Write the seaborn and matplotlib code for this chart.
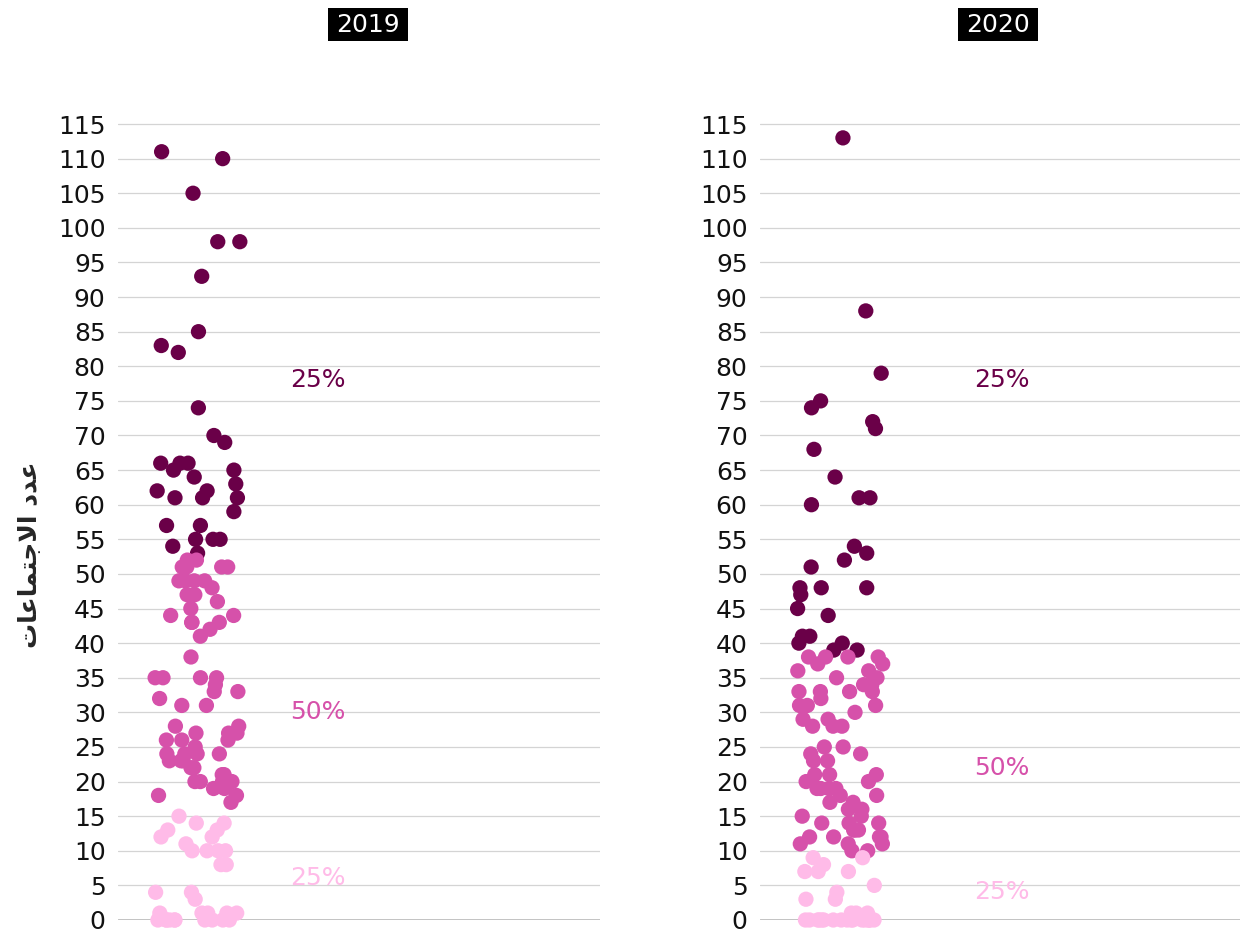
import numpy as np
import pandas as pd
import matplotlib
matplotlib.use("Agg")
import matplotlib.pyplot as plt
from matplotlib.patches import Rectangle
import seaborn as sns

# Meetings per member, split by quartile group
top_2019 = [111, 110, 105, 98, 98, 93, 85, 83, 82, 74, 70, 69, 66, 66, 66, 65, 65,
            64, 63, 62, 62, 61, 61, 61, 59, 57, 57, 55, 55, 55, 54, 53]
mid_2019 = [52, 52, 51, 51, 51, 51, 49, 49, 49, 49, 48, 47, 47, 46, 45, 44, 44,
            43, 43, 43, 42, 41, 38, 35, 35, 35, 35, 34, 33, 33, 32, 31, 31, 28, 28,
            27, 27, 27, 26, 26, 26, 25, 24, 24, 24, 24, 23, 23, 23, 22, 22, 21, 21,
            20, 20, 20, 20, 19, 19, 18, 18, 17]
low_2019 = [15, 14, 14, 13, 13, 12, 12, 11, 10, 10, 10, 10, 8, 8, 4, 4, 3,
            1, 1, 1, 1, 1, 0, 0, 0, 0, 0, 0, 0, 0, 0, 0]

top_2020 = [113, 88, 79, 75, 74, 72, 71, 68, 64, 61, 61, 60, 54, 53, 52, 51, 48,
            48, 48, 47, 45, 44, 41, 41, 40, 40, 39, 39]
mid_2020 = [38, 38, 38, 38, 37, 37, 36, 36, 35, 35, 34, 34, 33, 33, 33, 33, 32,
            31, 31, 31, 30, 29, 29, 28, 28, 28, 25, 25, 24, 24, 23, 23, 21, 21, 21,
            20, 20, 19, 19, 19, 19, 18, 18, 17, 17, 16, 16, 15, 15, 14, 14, 14, 13,
            13, 13, 12, 12, 12, 12, 11, 11, 11, 10, 10]
low_2020 = [9, 9, 8, 7, 7, 7, 5, 4, 3, 3, 1, 1, 1, 0, 0, 0, 0, 0, 0, 0, 0, 0,
            0, 0, 0, 0, 0, 0, 0, 0]

years = ["2019", "2020"]
groups = ["top", "mid", "low"]
group_labels = ["25%", "50%", "25%"]
label_pos = {"2019": [78, 30, 6], "2020": [78, 22, 4]}
label_x = {"2019": 0.57, "2020": 0.84}

colors = {"top": "#6a0048", "mid": "#d651aa", "low": "#ffbbe8"}

data = {
    "2019": {"top": top_2019, "mid": mid_2019, "low": low_2019},
    "2020": {"top": top_2020, "mid": mid_2020, "low": low_2020},
}

# "عدد الاجتماعات" in presentation forms, visual order (matplotlib has no shaping)
ylabel_forms = ["\uFECB", "\uFEAA", "\uFEA9", " ", "\uFE8D", "\uFEFB", "\uFE9F",
                "\uFE98", "\uFEE4", "\uFE8E", "\uFECB", "\uFE8E", "\uFE95"]
ylabel_text = "".join(reversed(ylabel_forms))

sns.set_theme(style="white")
plt.rcParams["font.family"] = ["DejaVu Sans"]

W, H = 1244, 936
fig = plt.figure(figsize=(W / 100, H / 100), dpi=100)
axes_pos = {"2019": [0.0949, 0.0171, 0.3874, 0.8526],
            "2020": [0.6110, 0.0171, 0.3860, 0.8526]}
title_cx = {"2019": 368, "2020": 998}

np.random.seed(7)
for year in years:
    ax = fig.add_axes(axes_pos[year])
    rows = []
    for g in groups:
        for v in data[year][g]:
            rows.append({"x": 0, "value": v, "group": g})
    df = pd.DataFrame(rows)
    sns.stripplot(data=df, x="x", y="value", hue="group", palette=colors,
                  hue_order=groups, jitter=0.27, size=11, linewidth=0,
                  legend=False, native_scale=True, ax=ax, clip_on=False, zorder=3)
    ax.set_xlim(-0.5, 2.5)
    ax.set_ylim(0, 115.3)
    ax.set_yticks(range(0, 116, 5))
    ax.set_yticklabels([str(t) for t in range(0, 116, 5)], fontsize=18)
    ax.tick_params(axis="y", length=0, pad=9, colors="#111111")
    ax.set_xticks([])
    ax.set_xlabel("")
    ax.set_ylabel("")
    for t in range(5, 116, 5):
        ax.axhline(t, color="#d4d4d4", lw=0.9, zorder=0)
    ax.axhline(0, color="#bdbdbd", lw=2, zorder=1)
    for s in ax.spines.values():
        s.set_visible(False)
    for g, lab, yv in zip(groups, group_labels, label_pos[year]):
        ax.text(label_x[year], yv, lab, color=colors[g], fontsize=18,
                ha="left", va="center")

    # year heading: white text on a black box
    cx = title_cx[year]
    fig.patches.append(Rectangle(((cx - 40) / W, 1 - 41 / H), 80 / W, 33 / H,
                                 transform=fig.transFigure, facecolor="black",
                                 edgecolor="none"))
    fig.text(cx / W, 1 - 25 / H, year, fontsize=18, color="white",
             ha="center", va="center")

fig.text(30 / W, 1 - 555 / H, ylabel_text, rotation=90, fontsize=18,
         fontweight="bold", ha="center", va="center")

fig.savefig("out.png", dpi=100)
